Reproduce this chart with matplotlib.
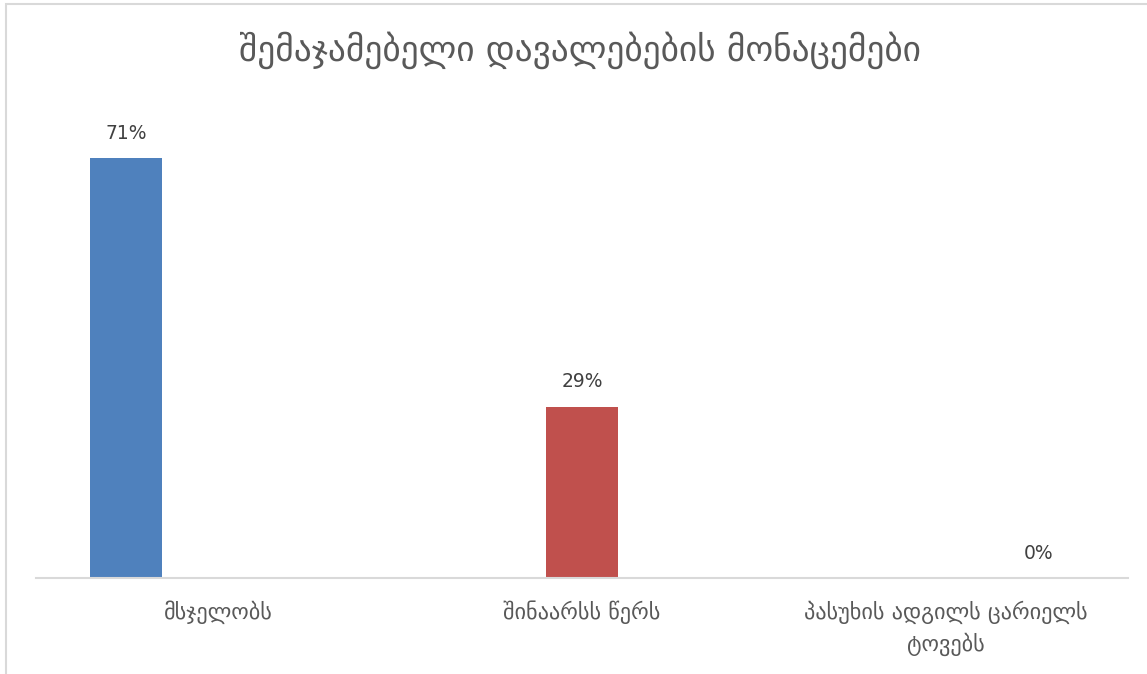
import numpy as np
import matplotlib
matplotlib.use("Agg")
import matplotlib.pyplot as plt
from matplotlib.patches import Rectangle

plt.rcParams['font.family'] = ['DejaVu Sans']

title = "შემაჯამებელი დავალებების მონაცემები"
categories = ["მსჯელობს", "შინაარსს წერს", "პასუხის ადგილს ცარიელს\nტოვებს"]
values = [0.71, 0.29, 0.0]
labels = ["71%", "29%", "0%"]
colors = ["#4f81bd", "#c0504d", "#9bbb59"]

fig = plt.figure(figsize=(11.47, 6.74), dpi=100)
W, H = 1147, 674

# chart frame (only left and top edges visible in the crop)
fig.patches.append(Rectangle((6 / W, -0.1), 1.2, (674 - 4) / H + 0.1,
                             transform=fig.transFigure, fill=False,
                             edgecolor="#d9d9d9", linewidth=1.5))

ax = fig.add_axes([36 / W, 96 / H, (1128 - 36) / W, 473 / H])
x = np.arange(len(categories))
# each value is its own series in a clustered group, so bars sit off-centre
offsets = np.array([-1, 0, 1]) * 0.253
ax.bar(x + offsets, values, width=0.198, color=colors)
ax.set_xlim(-0.5, 2.5)
ax.set_ylim(0, 0.8)

for xi, v, lab in zip(x + offsets, values, labels):
    ax.annotate(lab, (xi, v), xytext=(0, 11), textcoords="offset points",
                ha="center", va="bottom", fontsize=13.5, color="#404040")

ax.set_yticks([])
ax.set_xticks(x)
ax.set_xticklabels(categories, fontsize=16, color="#595959", linespacing=1.5)
ax.tick_params(axis="x", length=0, pad=16)

for s in ["top", "right", "left"]:
    ax.spines[s].set_visible(False)
ax.spines["bottom"].set_color("#d9d9d9")
ax.spines["bottom"].set_linewidth(1.5)

fig.text(580 / W, 1 - 50 / H, title, ha="center", va="center",
         fontsize=25.5, color="#595959")

fig.savefig("out.png", dpi=100, facecolor="white")
